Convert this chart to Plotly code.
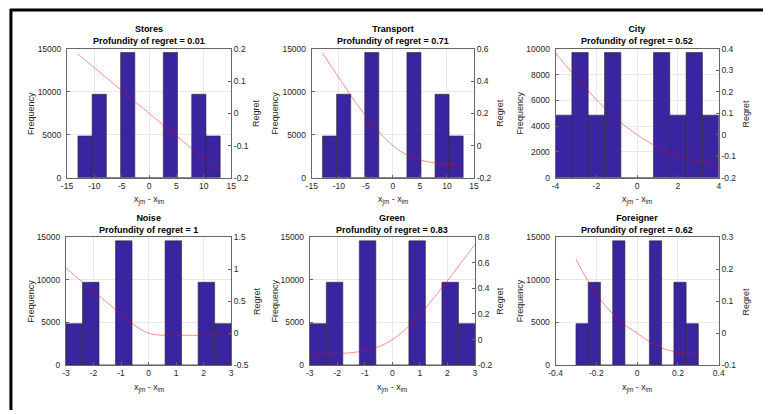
import plotly.graph_objects as go

# ---------------- data ----------------
panel_names = ["Stores", "Transport", "City", "Noise", "Green", "Foreigner"]
profundity = ["0.01", "0.71", "0.52", "1", "0.83", "0.62"]

stores_edges = [-13, -10.4, -7.8, -5.2, -2.6, 0, 2.6, 5.2, 7.8, 10.4, 13]
stores_counts = [4860, 9720, 0, 14580, 0, 0, 14580, 0, 9720, 4860]
transport_edges = [-13, -10.4, -7.8, -5.2, -2.6, 0, 2.6, 5.2, 7.8, 10.4, 13]
transport_counts = [4860, 9720, 0, 14580, 0, 0, 14580, 0, 9720, 4860]
city_edges = [-4, -3.2, -2.4, -1.6, -0.8, 0, 0.8, 1.6, 2.4, 3.2, 4]
city_counts = [4860, 9720, 4860, 9720, 0, 0, 9720, 4860, 9720, 4860]
noise_edges = [-3, -2.4, -1.8, -1.2, -0.6, 0, 0.6, 1.2, 1.8, 2.4, 3]
noise_counts = [4860, 9720, 0, 14580, 0, 0, 14580, 0, 9720, 4860]
green_edges = [-3, -2.4, -1.8, -1.2, -0.6, 0, 0.6, 1.2, 1.8, 2.4, 3]
green_counts = [4860, 9720, 0, 14580, 0, 0, 14580, 0, 9720, 4860]
foreigner_edges = [-0.3, -0.24, -0.18, -0.12, -0.06, 0, 0.06, 0.12, 0.18, 0.24, 0.3]
foreigner_counts = [4860, 9720, 0, 14580, 0, 0, 14580, 0, 9720, 4860]

stores_rx = [-13, -10, -7, -4, -1, 0, 1, 4, 7, 10, 13]
stores_ry = [0.184, 0.142, 0.099, 0.057, 0.014, 0.0, -0.014, -0.056, -0.098, -0.140, -0.181]
transport_rx = [-13, -11, -9, -7, -5, -3, -1, 0, 1, 3, 5, 7, 9, 11, 13]
transport_ry = [0.575, 0.472, 0.372, 0.273, 0.183, 0.10, 0.03, 0.0, -0.026, -0.065, -0.089, -0.104, -0.114, -0.12, -0.124]
city_rx = [-4, -3.2, -2.4, -1.6, -0.8, 0, 0.8, 1.6, 2.4, 3.2, 4]
city_ry = [0.38, 0.29, 0.205, 0.125, 0.057, 0.0, -0.047, -0.083, -0.109, -0.126, -0.138]
noise_rx = [-3, -2.4, -1.8, -1.2, -0.6, -0.3, 0, 0.3, 0.6, 1, 2, 3]
noise_ry = [1.02, 0.80, 0.585, 0.37, 0.155, 0.062, 0.0, -0.028, -0.033, -0.034, -0.034, -0.034]
green_rx = [-3, -2.5, -2, -1.5, -1, -0.5, 0, 0.5, 1, 1.5, 2, 2.5, 3]
green_ry = [-0.114, -0.113, -0.11, -0.103, -0.088, -0.057, 0.0, 0.085, 0.195, 0.325, 0.46, 0.6, 0.745]
foreigner_rx = [-0.3, -0.24, -0.18, -0.12, -0.06, 0, 0.06, 0.12, 0.18, 0.24, 0.3]
foreigner_ry = [0.232, 0.162, 0.105, 0.06, 0.025, 0.0, -0.027, -0.046, -0.058, -0.063, -0.065]

x_ticks = [[-15, -10, -5, 0, 5, 10, 15], [-15, -10, -5, 0, 5, 10, 15], [-4, -2, 0, 2, 4],
           [-3, -2, -1, 0, 1, 2, 3], [-3, -2, -1, 0, 1, 2, 3], [-0.4, -0.2, 0, 0.2, 0.4]]
x_ticktext = [["-15", "-10", "-5", "0", "5", "10", "15"], ["-15", "-10", "-5", "0", "5", "10", "15"],
              ["-4", "-2", "0", "2", "4"], ["-3", "-2", "-1", "0", "1", "2", "3"],
              ["-3", "-2", "-1", "0", "1", "2", "3"], ["-0.4", "-0.2", "0", "0.2", "0.4"]]
freq_ticks = [[0, 5000, 10000, 15000], [0, 5000, 10000, 15000], [0, 2000, 4000, 6000, 8000, 10000],
              [0, 5000, 10000, 15000], [0, 5000, 10000, 15000], [0, 5000, 10000, 15000]]
regret_ticks = [[-0.2, -0.1, 0, 0.1, 0.2], [-0.2, 0, 0.2, 0.4, 0.6], [-0.2, -0.1, 0, 0.1, 0.2, 0.3, 0.4],
                [-0.5, 0, 0.5, 1, 1.5], [-0.2, 0, 0.2, 0.4, 0.6, 0.8], [-0.1, 0, 0.1, 0.2, 0.3]]
regret_ticktext = [["-0.2", "-0.1", "0", "0.1", "0.2"], ["-0.2", "0", "0.2", "0.4", "0.6"],
                   ["-0.2", "-0.1", "0", "0.1", "0.2", "0.3", "0.4"], ["-0.5", "0", "0.5", "1", "1.5"],
                   ["-0.2", "0", "0.2", "0.4", "0.6", "0.8"], ["-0.1", "0", "0.1", "0.2", "0.3"]]

edges_all = [stores_edges, transport_edges, city_edges, noise_edges, green_edges, foreigner_edges]
counts_all = [stores_counts, transport_counts, city_counts, noise_counts, green_counts, foreigner_counts]
rx_all = [stores_rx, transport_rx, city_rx, noise_rx, green_rx, foreigner_rx]
ry_all = [stores_ry, transport_ry, city_ry, noise_ry, green_ry, foreigner_ry]

# ---------------- layout ----------------
W, H = 769, 415
boxes = [(61, 228, 45, 177), (310, 475, 45, 177), (558, 724, 45, 177),
         (60, 228, 238, 369), (308, 476, 238, 369), (558, 724, 238, 369)]
ylab_x = [25, 273, 522, 25, 273, 522]
rlab_x = [254, 502, 752, 254, 502, 752]

FONT = "Liberation Sans, Arial, sans-serif"
BAR = "#3B24A0"
LINE = "rgba(255,0,0,0.45)"
AXC = "#666666"
GRID = "#e8e8e8"
TXT = "#262626"

fig = go.Figure()
layout = {}
annotations = []

def px_x(p):
    return p / W

def px_y(p):
    return 1 - p / H

for i in range(6):
    n = i + 1
    xs = "" if n == 1 else str(n)
    ys = "" if n == 1 else str(n)
    rn = n + 6
    x0, x1, y0, y1 = boxes[i]
    edges = edges_all[i]
    counts = counts_all[i]
    centers = [(edges[k] + edges[k + 1]) / 2 for k in range(len(counts))]
    widths = [edges[k + 1] - edges[k] for k in range(len(counts))]
    fig.add_trace(go.Bar(x=centers, y=counts, width=widths,
                         marker=dict(color=BAR, line=dict(color="#2a2a2a", width=0.6)),
                         xaxis="x" + xs, yaxis="y" + ys, showlegend=False, hoverinfo="skip"))
    fig.add_trace(go.Scatter(x=rx_all[i], y=ry_all[i], mode="lines",
                             line=dict(color=LINE, width=1, shape="spline"),
                             xaxis="x" + xs, yaxis="y" + str(rn), showlegend=False, hoverinfo="skip"))
    xt = x_ticks[i]
    ft = freq_ticks[i]
    rt = regret_ticks[i]
    layout["xaxis" + xs] = dict(domain=[px_x(x0), px_x(x1)], anchor="y" + ys,
                                range=[xt[0], xt[-1]], tickvals=xt, ticktext=x_ticktext[i],
                                showgrid=True, gridcolor=GRID, gridwidth=1, zeroline=False,
                                showline=True, linecolor=AXC, linewidth=1, mirror=True,
                                ticks="inside", ticklen=3, tickcolor=AXC,
                                tickfont=dict(family=FONT, size=8.5, color=TXT))
    layout["yaxis" + ys] = dict(domain=[px_y(y1), px_y(y0)], anchor="x" + xs,
                                range=[ft[0], ft[-1]], tickvals=ft,
                                ticktext=[str(v) for v in ft],
                                showgrid=True, gridcolor=GRID, gridwidth=1, zeroline=False,
                                showline=True, linecolor=AXC, linewidth=1,
                                ticks="inside", ticklen=3, tickcolor=AXC,
                                ticklabelstandoff=3,
                                tickfont=dict(family=FONT, size=8.5, color=TXT))
    layout["yaxis" + str(rn)] = dict(overlaying="y" + ys, anchor="x" + xs, side="right",
                                     range=[rt[0], rt[-1]], tickvals=rt, ticktext=regret_ticktext[i],
                                     showgrid=False, zeroline=False,
                                     showline=True, linecolor=AXC, linewidth=1,
                                     ticks="inside", ticklen=3, tickcolor=AXC,
                                     tickfont=dict(family=FONT, size=8.5, color=TXT))
    cx = px_x((x0 + x1) / 2)
    annotations.append(dict(text="<b>" + panel_names[i] + "</b><br><b>Profundity of regret = "
                                 + profundity[i] + "</b>",
                            x=cx, y=px_y(y0 - 14), xref="paper", yref="paper",
                            xanchor="center", yanchor="middle", showarrow=False,
                            font=dict(family=FONT, size=9, color="#000000")))
    annotations.append(dict(text="x<sub>jm</sub> - x<sub>im</sub>",
                            x=cx, y=px_y(y1 + 23), xref="paper", yref="paper",
                            xanchor="center", yanchor="middle", showarrow=False,
                            font=dict(family=FONT, size=9, color=TXT)))
    annotations.append(dict(text="Frequency", textangle=-90,
                            x=px_x(ylab_x[i]), y=px_y((y0 + y1) / 2), xref="paper", yref="paper",
                            xanchor="center", yanchor="middle", showarrow=False,
                            font=dict(family=FONT, size=9, color=TXT)))
    annotations.append(dict(text="Regret", textangle=-90,
                            x=px_x(rlab_x[i]), y=px_y((y0 + y1) / 2), xref="paper", yref="paper",
                            xanchor="center", yanchor="middle", showarrow=False,
                            font=dict(family=FONT, size=9, color=TXT)))

shapes = [
    dict(type="line", xref="paper", yref="paper", x0=px_x(4), x1=px_x(4), y0=px_y(4), y1=px_y(415),
         line=dict(color="#000000", width=3)),
    dict(type="line", xref="paper", yref="paper", x0=px_x(3), x1=px_x(769), y0=px_y(5), y1=px_y(5),
         line=dict(color="#000000", width=3)),
]

fig.update_layout(width=W, height=H, margin=dict(l=0, r=0, t=0, b=0),
                  paper_bgcolor="white", plot_bgcolor="white", hovermode=False,
                  bargap=0, annotations=annotations, shapes=shapes, showlegend=False,
                  **layout)

fig.write_html("out.html",
               config={"displayModeBar": False, "staticPlot": True},
               post_script=("document.body.style.margin='0px';"
                            "document.body.style.overflow='hidden';"
                            "var gd=document.getElementById('{plot_id}');"
                            "gd.style.position='absolute';gd.style.left='0px';gd.style.top='0px';"))
